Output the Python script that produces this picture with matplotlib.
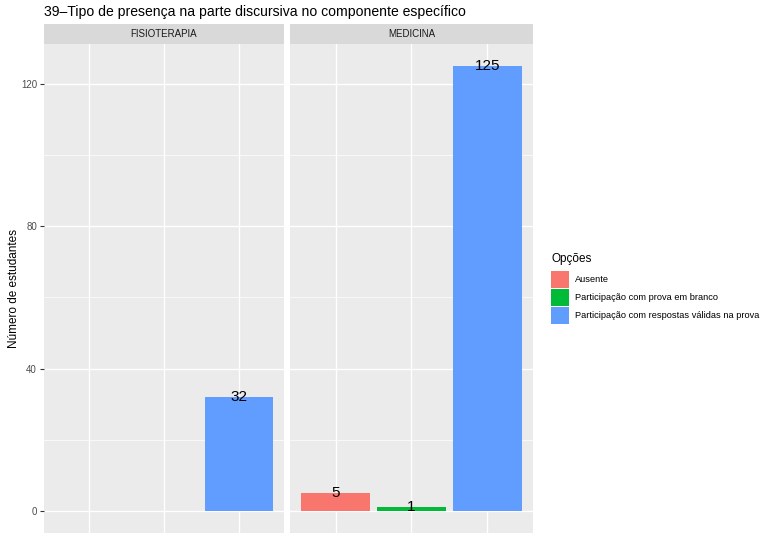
import matplotlib.pyplot as plt
from matplotlib.patches import Rectangle

plt.rcParams['font.family'] = ['Liberation Sans', 'DejaVu Sans']

cursos = ["FISIOTERAPIA", "MEDICINA"]
opcoes = ["Ausente", "Participação com prova em branco",
          "Participação com respostas válidas na prova"]
cores = ["#F8766D", "#00BA38", "#619CFF"]
valores = {
    "FISIOTERAPIA": [0, 0, 32],
    "MEDICINA": [5, 1, 125],
}

W, H = 767, 533
fig = plt.figure(figsize=(W / 100, H / 100), dpi=100)
fig.patch.set_facecolor("white")

panels = [(44, 284), (290, 533)]
top = 44
strip_h = 20

ylo, yhi = -6.25, 131.25
for curso, (x0, x1) in zip(cursos, panels):
    ax = fig.add_axes([x0 / W, 0, (x1 - x0) / W, (H - top) / H])
    ax.set_facecolor("#EBEBEB")
    for s in ax.spines.values():
        s.set_visible(False)
    ax.set_xlim(0.4, 3.6)
    ax.set_ylim(ylo, yhi)
    for y in [20, 60, 100]:
        ax.axhline(y, color="white", lw=0.5, zorder=0)
    for y in [0, 40, 80, 120]:
        ax.axhline(y, color="white", lw=1.0, zorder=0)
    for x in [1, 2, 3]:
        ax.axvline(x, color="white", lw=1.0, zorder=0)
    vals = valores[curso]
    for i, v in enumerate(vals):
        if v > 0:
            ax.bar(i + 1, v, width=0.9, color=cores[i], zorder=2)
            ax.text(i + 1, v, str(v), ha="center", va="center",
                    fontsize=11, color="black", zorder=3)
    ax.set_xticks([])
    ax.set_yticks([0, 40, 80, 120])
    ax.tick_params(axis="y", length=3, color="#333333", labelsize=7,
                   labelcolor="#4D4D4D", width=0.8, pad=2)
    if curso != cursos[0]:
        ax.set_yticklabels([])
        ax.tick_params(axis="y", length=0)
    # strip
    sax = fig.add_axes([x0 / W, (H - top) / H, (x1 - x0) / W, strip_h / H])
    sax.set_facecolor("#D9D9D9")
    sax.set_xticks([])
    sax.set_yticks([])
    for s in sax.spines.values():
        s.set_visible(False)
    sax.text(0.5, 0.5, curso, ha="center", va="center", fontsize=7,
             color="#1A1A1A", transform=sax.transAxes)

fig.text(14 / W, 1 - 288 / H, "Número de estudantes", rotation=90,
         fontsize=8.5, ha="center", va="center")
fig.text(44 / W, 1 - 12 / H, "39–Tipo de presença na parte discursiva no componente específico",
         fontsize=10.1, ha="left", va="center")

# legend drawn by hand, ggplot style
fig.text(551 / W, 1 - 259 / H, "Opções", fontsize=8.5, ha="left", va="center")
for i, (c, o) in enumerate(zip(cores, opcoes)):
    ytop = 271 + i * 18
    fig.patches.append(Rectangle((551 / W, 1 - (ytop + 17) / H), 18 / W, 17 / H,
                                 transform=fig.transFigure, facecolor=c,
                                 edgecolor="none"))
    fig.text(575 / W, 1 - (ytop + 8.5) / H, o, fontsize=6.7, ha="left", va="center")

fig.savefig("out.png", dpi=100)
